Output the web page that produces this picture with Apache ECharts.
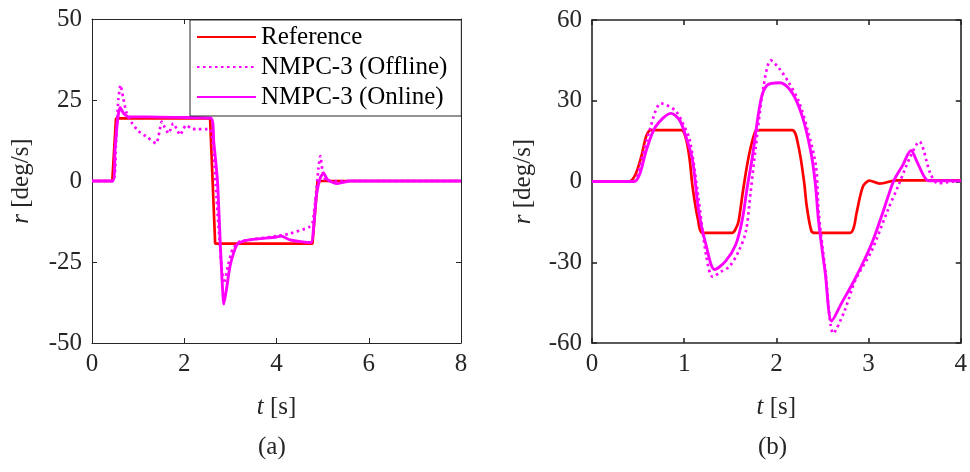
<!DOCTYPE html>
<html>
<head>
<meta charset="utf-8">
<script src="https://cdn.jsdelivr.net/npm/echarts@6/dist/echarts.min.js"></script>
<style>
html,body{margin:0;padding:0;background:#fff;}
#chart{width:970px;height:472px;}
</style>
</head>
<body>
<div id="chart"></div>
<script>
// ---------- Data ----------
const seriesNames = ['Reference', 'NMPC-3 (Offline)', 'NMPC-3 (Online)'];

// Panel (a)
const xTicksA = [0, 2, 4, 6, 8];
const yTicksA = [-50, -25, 0, 25, 50];
const refA_t = [0, 0.44, 0.52, 2.56, 2.67, 4.78, 4.89, 8];
const refA_r = [0, 0, 19.3, 19.3, -19.3, -19.3, 0, 0];
const offA_t = [0, 0.45, 0.52, 0.57, 0.62, 0.67, 0.75, 0.86, 1.0, 1.2, 1.39, 1.46, 1.51, 1.58, 1.66, 1.76, 1.84, 1.91, 1.98, 2.04, 2.15, 2.3, 2.55, 2.62, 2.7, 2.8, 2.86, 2.95, 3.05, 3.2, 3.5, 4.0, 4.3, 4.7, 4.78, 4.85, 4.91, 4.95, 5.0, 5.08, 5.2, 8];
const offA_r = [0, 0, 12, 25, 29.6, 26, 21, 18, 15.5, 13.5, 11.6, 15, 18.3, 16.5, 14.7, 17.8, 16, 14.2, 16, 17.3, 16.2, 16, 16, 12, -5, -25, -31.6, -26, -21, -18.7, -18, -17, -16.2, -14.3, -13, -5, 4, 7.7, 3, 0, 0, 0];
const onA_t = [0, 0.45, 0.5, 0.56, 0.61, 0.68, 0.8, 1.2, 2.0, 2.58, 2.64, 2.72, 2.79, 2.86, 2.92, 2.99, 3.08, 3.15, 3.3, 3.5, 4.0, 4.1, 4.3, 4.75, 4.8, 4.87, 4.95, 5.02, 5.1, 5.3, 5.6, 8];
const onA_r = [0, 0, 10, 19.5, 22.7, 21, 19.8, 19.8, 19.6, 19.4, 12, 0, -22, -38, -33, -26.4, -21.8, -19.5, -18.5, -18, -17.3, -17, -18.2, -19, -15, -4, 1, 2.5, 0.5, -0.8, 0, 0];

// Panel (b)
const xTicksB = [0, 1, 2, 3, 4];
const yTicksB = [-60, -30, 0, 30, 60];
const refB_t = [0, 0.4, 0.47, 0.535, 0.59, 0.64, 0.97, 1.02, 1.06, 1.09, 1.15, 1.2, 1.52, 1.56, 1.59, 1.64, 1.70, 1.77, 1.82, 2.17, 2.24, 2.30, 2.33, 2.38, 2.42, 2.80, 2.84, 2.87, 2.94, 3.01, 3.12, 3.3, 4];
const refB_r = [0, 0, 2.5, 9.3, 17, 19.1, 19.1, 15.8, 8, -1.8, -14.2, -19.1, -19.1, -17.5, -14.8, -3, 9.3, 18.5, 19.1, 19.1, 13, 0, -9.3, -18.4, -19.1, -19.1, -17, -11.7, -1.8, 0.3, -0.8, 0.4, 0.4];
const offB_t = [0, 0.45, 0.52, 0.62, 0.75, 0.9, 0.98, 1.06, 1.15, 1.24, 1.31, 1.4, 1.49, 1.59, 1.67, 1.72, 1.77, 1.86, 1.94, 2.03, 2.13, 2.24, 2.34, 2.43, 2.46, 2.53, 2.62, 2.74, 2.86, 3.03, 3.21, 3.32, 3.45, 3.55, 3.67, 3.75, 3.85, 4];
const offB_r = [0, 0, 6, 18.5, 29, 26.5, 22, 15.4, -5, -27.8, -35.4, -33.5, -31.6, -26, -18.4, -4.2, 11, 35.2, 45, 42, 37, 30, 19, 5.5, -11.7, -32.7, -56.4, -48, -36.4, -26, -10.5, -1.8, 9, 14.8, 3, -0.6, -0.3, 0.3];
const onB_t = [0, 0.46, 0.52, 0.59, 0.69, 0.86, 0.95, 1.02, 1.09, 1.16, 1.24, 1.33, 1.45, 1.56, 1.63, 1.68, 1.74, 1.83, 1.90, 2.04, 2.17, 2.28, 2.37, 2.42, 2.46, 2.53, 2.60, 2.71, 2.85, 3.03, 3.15, 3.27, 3.37, 3.46, 3.53, 3.6, 3.65, 4];
const onB_r = [0, 0, 3, 11.7, 20.4, 25.3, 22.8, 16.6, 8, -11.7, -24, -32.7, -29.6, -23.4, -14.2, -3, 9.3, 30, 35.8, 36.7, 33, 24.3, 11.7, 0, -15.4, -33.9, -51.8, -45, -36.4, -23.4, -12, 0, 6, 11.5, 7, 2, 0.3, 0.3];

// ---------- Helpers ----------
const pairs = (t, r) => t.map((v, i) => [v, r[i]]);
const FONT = "'Liberation Serif', 'Times New Roman', 'DejaVu Serif', serif";
const AX = '#262626';
const RED = '#FF0000';
const MAG = '#FF00FF';

function xAxisPair(gi, ticks, lw) {
  const min = ticks[0], max = ticks[ticks.length - 1], interval = ticks[1] - ticks[0];
  const base = {
    gridIndex: gi, type: 'value', min, max, interval,
    axisLine: {show: true, onZero: false, lineStyle: {color: AX, width: lw}},
    axisTick: {show: true, inside: true, length: 5, lineStyle: {color: AX, width: lw}},
    splitLine: {show: false}
  };
  return [
    Object.assign({}, base, {
      position: 'bottom',
      axisLabel: {show: true, margin: 9, fontFamily: FONT, fontSize: 25, color: AX},
      name: '{i|t} [s]', nameLocation: 'middle', nameGap: 52,
      nameTextStyle: {fontFamily: FONT, fontSize: 25, color: AX,
        rich: {i: {fontFamily: FONT, fontSize: 25, fontStyle: 'italic', color: AX}}}
    }),
    Object.assign({}, base, {position: 'top', axisLabel: {show: false}})
  ];
}
function yAxisPair(gi, ticks, lw, gap) {
  const min = ticks[0], max = ticks[ticks.length - 1], interval = ticks[1] - ticks[0];
  const base = {
    gridIndex: gi, type: 'value', min, max, interval,
    axisLine: {show: true, onZero: false, lineStyle: {color: AX, width: lw}},
    axisTick: {show: true, inside: true, length: 5, lineStyle: {color: AX, width: lw}},
    splitLine: {show: false}
  };
  return [
    Object.assign({}, base, {
      position: 'left',
      axisLabel: {show: true, margin: 10, fontFamily: FONT, fontSize: 25, color: AX},
      name: '{i|r} [deg/s]', nameLocation: 'middle', nameGap: gap, nameRotate: 90,
      nameTextStyle: {fontFamily: FONT, fontSize: 25, color: AX,
        rich: {i: {fontFamily: FONT, fontSize: 25, fontStyle: 'italic', color: AX}}}
    }),
    Object.assign({}, base, {position: 'right', axisLabel: {show: false}})
  ];
}
function lineSeries(name, data, xi, yi, color, width, dotted, smooth) {
  return {
    name, type: 'line', xAxisIndex: xi, yAxisIndex: yi, data,
    showSymbol: false, symbol: 'none', symbolSize: 0, smooth: smooth || false,
    lineStyle: {color, width, type: dotted ? [2.5, 3.5] : 'solid'},
    itemStyle: {color},
    animation: false
  };
}

const chart = echarts.init(document.getElementById('chart'), null, {renderer: 'canvas'});
chart.setOption({
  animation: false,
  backgroundColor: '#fff',
  grid: [
    {left: 92, top: 19, width: 369, height: 324, containLabel: false},
    {left: 592, top: 20, width: 371, height: 323, containLabel: false}
  ],
  xAxis: [...xAxisPair(0, xTicksA, 1), ...xAxisPair(1, xTicksB, 1.6)],
  yAxis: [...yAxisPair(0, yTicksA, 1, 58), ...yAxisPair(1, yTicksB, 1.6, 56)],
  legend: {
    data: seriesNames.map(n => ({name: n})),
    orient: 'vertical', left: 190, top: 20,
    itemWidth: 59, itemHeight: 14, itemGap: 4,
    padding: [4, 14, 6, 6],
    backgroundColor: '#fff', borderColor: AX, borderWidth: 1, borderRadius: 0,
    itemStyle: {opacity: 0, borderWidth: 0},
    textStyle: {fontFamily: FONT, fontSize: 25, color: '#000', lineHeight: 26},
    selectedMode: false
  },
  graphic: [
    {type: 'text', left: 258, top: 435, style: {text: '(a)', fontFamily: FONT, fontSize: 25, fill: AX}},
    {type: 'text', left: 758, top: 435, style: {text: '(b)', fontFamily: FONT, fontSize: 25, fill: AX}}
  ],
  series: [
    lineSeries(seriesNames[0], pairs(refA_t, refA_r), 0, 0, RED, 2.7, false),
    lineSeries(seriesNames[1], pairs(offA_t, offA_r), 0, 0, MAG, 2.7, true, 0.2),
    lineSeries(seriesNames[2], pairs(onA_t, onA_r), 0, 0, MAG, 2.9, false, 0.2),
    lineSeries(seriesNames[0], pairs(refB_t, refB_r), 2, 2, RED, 2.7, false, 0.3),
    lineSeries(seriesNames[1], pairs(offB_t, offB_r), 2, 2, MAG, 2.7, true, 0.3),
    lineSeries(seriesNames[2], pairs(onB_t, onB_r), 2, 2, MAG, 2.9, false, 0.3)
  ]
});
</script>
</body>
</html>
